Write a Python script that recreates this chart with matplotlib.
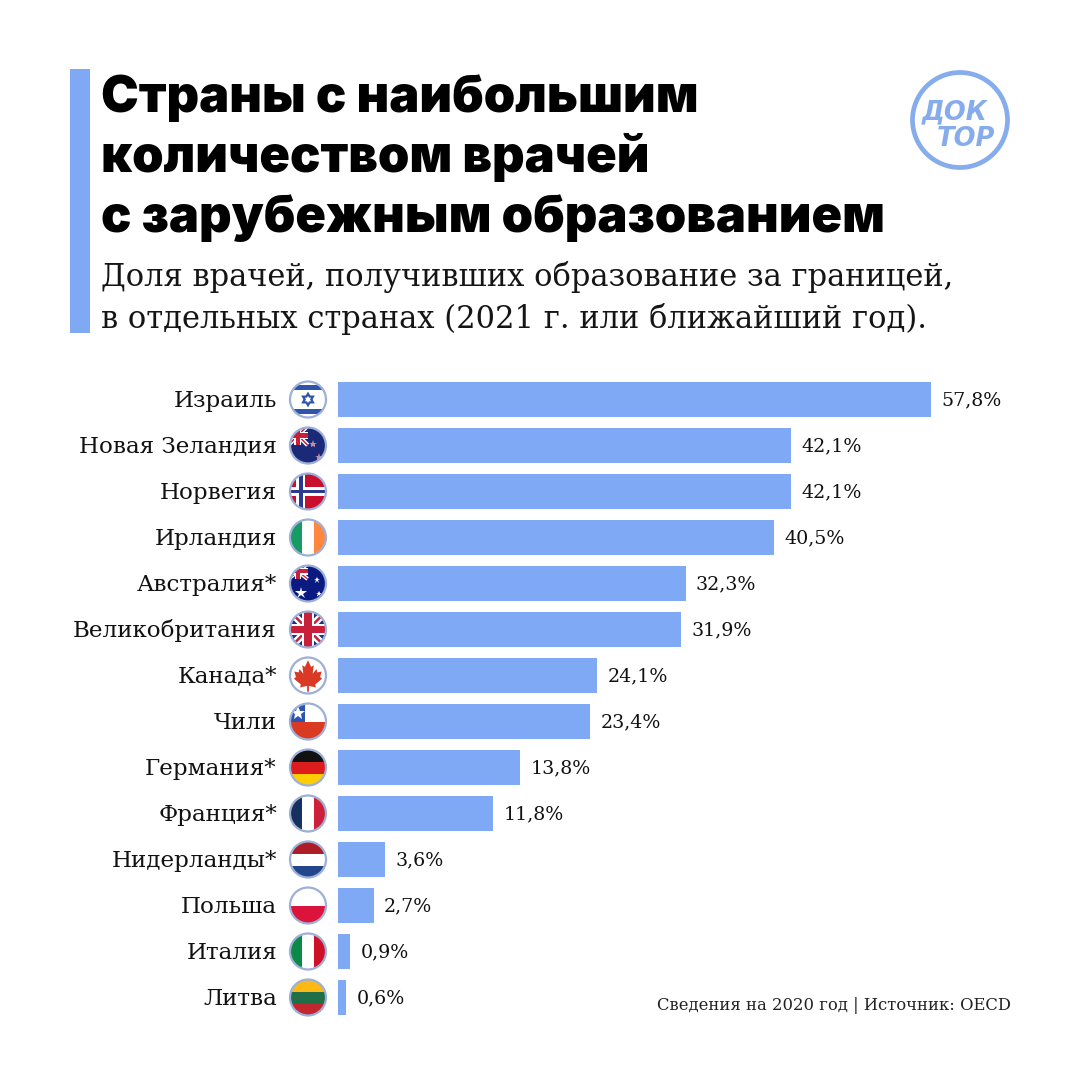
import numpy as np
import matplotlib
matplotlib.use("Agg")
import matplotlib.pyplot as plt
from matplotlib.patches import Circle, Polygon, Rectangle

# ── data ──────────────────────────────────────
TITLE_LINES = ["Страны с наибольшим", "количеством врачей", "с зарубежным образованием"]
SUBTITLE_LINES = ["Доля врачей, получивших образование за границей,",
                  "в отдельных странах (2021 г. или ближайший год)."]
SOURCE = "Сведения на 2020 год | Источник: OECD"

countries = ["Израиль", "Новая Зеландия", "Норвегия", "Ирландия", "Австралия*",
             "Великобритания", "Канада*", "Чили", "Германия*", "Франция*",
             "Нидерланды*", "Польша", "Италия", "Литва"]
value_labels = ["57,8%", "42,1%", "42,1%", "40,5%", "32,3%", "31,9%", "24,1%",
                "23,4%", "13,8%", "11,8%", "3,6%", "2,7%", "0,9%", "0,6%"]
# bar lengths as drawn in the picture: they do not follow the printed labels
# for Israel and for the bars from Germany down
bar_lengths = [55.1, 42.1, 42.1, 40.5, 32.3, 31.9, 24.1, 23.4, 16.9, 14.4, 4.4, 3.3, 1.15, 0.75]

BLUE = "#7FA8F5"
LOGO_BLUE = "#86ACEC"
RING = "#9DB0D8"
SLAB = ["DejaVu Serif"]
HEAD = ["Inter"]

fig = plt.figure(figsize=(10.8, 10.8), dpi=100, facecolor="white")

# bars: 10.76 px per unit, 46 px per row
ax = fig.add_axes([338 / 1080, 1 - 1020.5 / 1080, 700 / 1080, 644 / 1080])
ax.set_xlim(0, 700 / 10.76)
ax.set_ylim(13.5, -0.5)
ax.axis("off")
ypos = np.arange(len(countries))
ax.barh(ypos, bar_lengths, height=35 / 46, color=BLUE)
for y, w, lab in zip(ypos, bar_lengths, value_labels):
    ax.annotate(lab, (w, y), xytext=(7.5, 1), textcoords="offset points", va="center_baseline",
                ha="left", fontsize=13.7, family=SLAB, color="#111111")

# overlay in pixel coordinates, for header, labels and flags
ov = fig.add_axes([0, 0, 1, 1], zorder=3)
ov.set_xlim(0, 1080)
ov.set_ylim(1080, 0)
ov.axis("off")
ov.patch.set_alpha(0)

ov.add_patch(Rectangle((70, 69), 20, 264, color=BLUE, lw=0))
for line, y in zip(TITLE_LINES, [112, 172, 232]):
    ov.text(101, y, line, fontsize=36.4, fontweight="black", family=HEAD, color="black",
            ha="left", va="baseline")
for line, y in zip(SUBTITLE_LINES, [286, 328]):
    ov.text(101, y, line, fontsize=22, family=SLAB, color="#151515", ha="left", va="baseline")
ov.text(1011, 1010, SOURCE, fontsize=11.8, family=SLAB, color="#222222", ha="right", va="baseline")

# logo
ov.add_patch(Circle((960, 120), 47.5, fill=False, ec=LOGO_BLUE, lw=3.4))
ov.text(955, 119, "ДОК", fontsize=18.5, fontweight="bold", style="oblique", family=["DejaVu Sans"],
        color=LOGO_BLUE, ha="center", va="baseline")
ov.text(966, 146, "ТОР", fontsize=18.5, fontweight="bold", style="oblique", family=["DejaVu Sans"],
        color=LOGO_BLUE, ha="center", va="baseline")


# ── flags, drawn in a unit box around each centre ──
R = 18


def clipped(artist, clip):
    artist.set_clip_path(clip)
    return artist


def box(cx, cy, clip, x0, y0, x1, y1, color, z=2):
    r = Rectangle((cx + x0 * R, cy + y0 * R), (x1 - x0) * R, (y1 - y0) * R, color=color, lw=0, zorder=z)
    ov.add_patch(r)
    clipped(r, clip)


def poly(cx, cy, clip, pts, color, z=2):
    p = Polygon([(cx + a * R, cy + b * R) for a, b in pts], color=color, lw=0, zorder=z)
    ov.add_patch(p)
    clipped(p, clip)


def star(cx, cy, clip, x, y, size, color):
    m, = ov.plot([cx + x * R], [cy + y * R], marker="*", ms=size, color=color, mew=0, zorder=4)
    clipped(m, clip)


def hstripes(cx, cy, clip, colors, edges=None):
    edges = edges if edges else np.linspace(-1, 1, len(colors) + 1)
    for c, a, b in zip(colors, edges[:-1], edges[1:]):
        box(cx, cy, clip, -1, a, 1, b, c)


def vstripes(cx, cy, clip, colors):
    edges = np.linspace(-1, 1, len(colors) + 1)
    for c, a, b in zip(colors, edges[:-1], edges[1:]):
        box(cx, cy, clip, a, -1, b, 1, c)


def union_jack(cx, cy, clip, x0, y0, x1, y1, k=1.0):
    mx, my = (x0 + x1) / 2, (y0 + y1) / 2
    for (a, b, c, d) in [(x0, y0, x1, y1), (x0, y1, x1, y0)]:
        for wid, col in [(0.2 * k, "white"), (0.07 * k, "#C8203A")]:
            dx, dy = c - a, d - b
            n = np.hypot(dx, dy)
            ox, oy = -dy / n * wid, dx / n * wid
            poly(cx, cy, clip, [(a + ox, b + oy), (c + ox, d + oy), (c - ox, d - oy), (a - ox, b - oy)], col, 3)
    for wid, col, z in [(0.33 * k, "white", 3.1), (0.2 * k, "#C8203A", 3.2)]:
        box(cx, cy, clip, x0, my - wid, x1, my + wid, col, z)
        box(cx, cy, clip, mx - wid, y0, mx + wid, y1, col, z)


def draw_flag(name, cx, cy, clip):
    NAVY = "#1A2A78"
    if name == "Израиль":
        hstripes(cx, cy, clip, ["white", "#2F55A8", "white", "#2F55A8", "white"], [-1, -0.8, -0.52, 0.52, 0.8, 1])
        poly(cx, cy, clip, [(0, -0.44), (0.38, 0.22), (-0.38, 0.22)], "#2F55A8", 3)
        poly(cx, cy, clip, [(0, 0.44), (0.38, -0.22), (-0.38, -0.22)], "#2F55A8", 3)
        poly(cx, cy, clip, [(0, -0.2), (0.17, 0.1), (-0.17, 0.1)], "white", 3.1)
        poly(cx, cy, clip, [(0, 0.2), (0.17, -0.1), (-0.17, -0.1)], "white", 3.1)
    elif name == "Новая Зеландия":
        box(cx, cy, clip, -1, -1, 1, 1, NAVY)
        union_jack(cx, cy, clip, -1.1, -1.1, -0.02, -0.02, k=0.6)
        star(cx, cy, clip, 0.3, -0.1, 6, "#C48BA8")
        star(cx, cy, clip, 0.62, 0.62, 6, "#C48BA8")
    elif name == "Норвегия":
        box(cx, cy, clip, -1, -1, 1, 1, "#C8102E")
        box(cx, cy, clip, -1, -0.24, 1, 0.24, "white")
        box(cx, cy, clip, -0.64, -1, -0.14, 1, "white")
        box(cx, cy, clip, -1, -0.11, 1, 0.11, "#2A3B8F")
        box(cx, cy, clip, -0.5, -1, -0.28, 1, "#2A3B8F")
    elif name == "Ирландия":
        vstripes(cx, cy, clip, ["#169B62", "white", "#FF883E"])
    elif name == "Австралия*":
        box(cx, cy, clip, -1, -1, 1, 1, "#0B1A80")
        union_jack(cx, cy, clip, -1.1, -1.1, -0.02, -0.25, k=0.55)
        star(cx, cy, clip, -0.38, 0.5, 9, "white")
        star(cx, cy, clip, 0.52, -0.22, 5, "white")
        star(cx, cy, clip, 0.62, 0.6, 4, "white")
    elif name == "Великобритания":
        box(cx, cy, clip, -1, -1, 1, 1, "#1F2F78")
        union_jack(cx, cy, clip, -1, -1, 1, 1)
    elif name == "Канада*":
        box(cx, cy, clip, -1, -1, 1, 1, "white")
        leaf = [(0, -0.85), (0.17, -0.48), (0.32, -0.56), (0.26, -0.1), (0.47, -0.36), (0.52, -0.17),
                (0.76, -0.22), (0.67, 0.08), (0.78, 0.18), (0.4, 0.5), (0.44, 0.66), (0.05, 0.58),
                (0.05, 0.9), (-0.05, 0.9), (-0.05, 0.58), (-0.44, 0.66), (-0.4, 0.5), (-0.78, 0.18),
                (-0.67, 0.08), (-0.76, -0.22), (-0.52, -0.17), (-0.47, -0.36), (-0.26, -0.1), (-0.32, -0.56),
                (-0.17, -0.48)]
        poly(cx, cy, clip, leaf, "#D93A26", 3)
    elif name == "Чили":
        box(cx, cy, clip, -1, -1, 1, 0, "white")
        box(cx, cy, clip, -1, 0, 1, 1, "#DA3A22")
        box(cx, cy, clip, -1, -1, -0.15, 0, "#2A55B0")
        star(cx, cy, clip, -0.53, -0.48, 10, "white")
    elif name == "Германия*":
        hstripes(cx, cy, clip, ["#111111", "#DD1C1C", "#FFCE00"])
    elif name == "Франция*":
        vstripes(cx, cy, clip, ["#16305F", "white", "#CE1F3A"])
    elif name == "Нидерланды*":
        hstripes(cx, cy, clip, ["#AE1C28", "white", "#21468B"])
    elif name == "Польша":
        hstripes(cx, cy, clip, ["white", "#DC143C"])
    elif name == "Италия":
        vstripes(cx, cy, clip, ["#0B8A45", "white", "#CE1126"])
    elif name == "Литва":
        hstripes(cx, cy, clip, ["#FDB913", "#1F6F48", "#C1272D"])


for i, name in enumerate(countries):
    _, cy = ov.transData.inverted().transform(ax.transData.transform((0, ypos[i])))
    cx = 308
    ov.text(277, cy - 1.5, name, fontsize=16.6, family=SLAB, color="#111111", ha="right", va="center_baseline")
    clip = Circle((cx, cy), R, transform=ov.transData)
    draw_flag(name, cx, cy, clip)
    ov.add_patch(Circle((cx, cy), R, fill=False, ec=RING, lw=1.6, zorder=5))

fig.savefig("out.png", dpi=100, facecolor="white")
